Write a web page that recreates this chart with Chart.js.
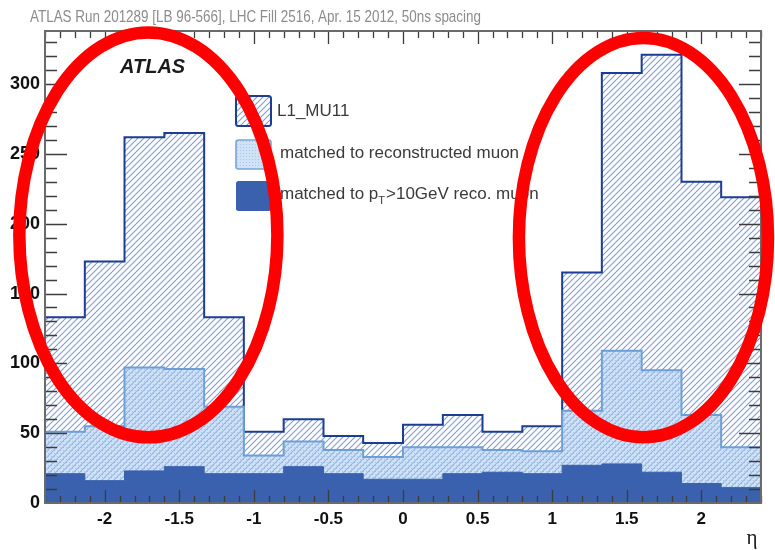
<!DOCTYPE html>
<html>
<head>
<meta charset="utf-8">
<script src="https://cdn.jsdelivr.net/npm/chart.js@4.4.1/dist/chart.umd.min.js"></script>
<style>
  html, body { margin: 0; padding: 0; background: #ffffff; }
  canvas { display: block; }
</style>
</head>
<body>
<canvas id="c" width="775" height="550"></canvas>
<script>
// Pseudorapidity bin edges (18 bins from -2.4 to 2.4)
const etaEdges = [-2.4, -2.133, -1.867, -1.6, -1.333, -1.067, -0.8, -0.533, -0.267, 0,
                  0.267, 0.533, 0.8, 1.067, 1.333, 1.6, 1.867, 2.133, 2.4];
// Entries per bin
const l1Mu11      = [133, 173, 262, 265, 133, 51, 60, 48, 43, 56, 63, 51, 55, 165, 308, 321, 230, 219];
const matchedReco = [51, 55, 97, 96, 69, 34, 44, 38, 33, 40, 40, 38, 37, 66, 109, 95, 63, 40];
const matchedPt10 = [21, 16, 23, 26, 21, 21, 26, 21, 17, 17, 21, 22, 21, 27, 28, 22, 14, 11];
// Axis labels
const xTickLabels = ['-2', '-1.5', '-1', '-0.5', '0', '0.5', '1', '1.5', '2'];
const yTickLabels = ['0', '50', '100', '150', '200', '250', '300'];
const seriesNames = ['L1_MU11', 'matched to reconstructed muon', 'matched to p_T>10GeV reco. muon'];
const runTitle = 'ATLAS Run 201289 [LB 96-566], LHC Fill 2516, Apr. 15 2012, 50ns spacing';
// Highlighted regions: centre (eta, entries) and half-axes (eta, entries)
const highlightCentersEta = [-1.707, 1.612];
const highlightCentersY   = [192, 190];
const highlightHalfEta    = [0.865, 0.835];
const highlightHalfY      = [145, 143];

const canvas = document.getElementById('c');
const ctx = canvas.getContext('2d');

// Diagonal hatching used for the L1_MU11 histogram
function makeHatch() {
  const s = 6;
  const c = document.createElement('canvas');
  c.width = s; c.height = s;
  const g = c.getContext('2d');
  g.fillStyle = '#ffffff';
  g.fillRect(0, 0, s, s);
  g.strokeStyle = '#7f9dd4';
  g.lineWidth = 1.1;
  g.beginPath();
  g.moveTo(-1, s + 1); g.lineTo(s + 1, -1);
  g.moveTo(-1, 1); g.lineTo(1, -1);
  g.moveTo(s - 1, s + 1); g.lineTo(s + 1, s - 1);
  g.stroke();
  return ctx.createPattern(c, 'repeat');
}
// Light dotted fill, translucent so the hatching beneath shows through
function makeDots() {
  const s = 3;
  const c = document.createElement('canvas');
  c.width = s; c.height = s;
  const g = c.getContext('2d');
  g.fillStyle = 'rgba(170,202,238,0.55)';
  g.fillRect(0, 0, s, s);
  g.fillStyle = 'rgba(120,160,212,0.45)';
  g.fillRect(0, 0, 1, 1);
  return ctx.createPattern(c, 'repeat');
}
const hatch = makeHatch();
const dots = makeDots();
const darkBlue = '#3a61ad';

function steps(vals) {
  const pts = vals.map((v, i) => ({ x: etaEdges[i], y: v }));
  pts.push({ x: etaEdges[vals.length], y: vals[vals.length - 1] });
  return pts;
}

const tickFont = { family: '"Liberation Sans", Arial, sans-serif', weight: 'bold' };

// Frame with inward ticks on all four sides
const framePlugin = {
  id: 'frame',
  afterDatasetsDraw(chart) {
    const { ctx, chartArea: a, scales: { x, y } } = chart;
    ctx.save();
    ctx.strokeStyle = '#3c3c3c';
    ctx.lineWidth = 1.3;
    ctx.beginPath();
    for (let k = -24; k <= 24; k++) {
      const v = k / 10;
      const px = Math.round(x.getPixelForValue(v)) + 0.5;
      const major = k % 5 === 0;
      const l = major ? 13 : 7;
      ctx.moveTo(px, a.bottom); ctx.lineTo(px, a.bottom - l);
      ctx.moveTo(px, a.top); ctx.lineTo(px, a.top + l);
    }
    for (let v = 10; v <= 330; v += 10) {
      const py = Math.round(y.getPixelForValue(v)) + 0.5;
      const major = v % 50 === 0;
      const l = major ? 22 : 12;
      ctx.moveTo(a.left, py); ctx.lineTo(a.left + l, py);
      ctx.moveTo(a.right, py); ctx.lineTo(a.right - l, py);
    }
    ctx.stroke();
    ctx.strokeStyle = '#6a6a6a';
    ctx.lineWidth = 2;
    ctx.strokeRect(a.left, a.top, a.right - a.left, a.bottom - a.top);
    ctx.restore();
  }
};

// Texts, legend and highlight ellipses
const decorPlugin = {
  id: 'decor',
  afterDraw(chart) {
    const { ctx, scales: { x, y } } = chart;
    ctx.save();
    // run title
    ctx.fillStyle = '#8c8c8c';
    ctx.font = '17px "Liberation Sans", Arial, sans-serif';
    ctx.textBaseline = 'alphabetic';
    ctx.textAlign = 'left';
    ctx.fillText(runTitle, 30, 22, 451);

    // ATLAS label
    ctx.fillStyle = '#1a1a1a';
    ctx.font = 'italic bold 20px "Liberation Sans", Arial, sans-serif';
    ctx.fillText('ATLAS', 120, 73);

    // legend
    const bx = 236, bw = 35;
    function box(top, h, fill, stroke, lw) {
      ctx.beginPath();
      ctx.roundRect(bx, top, bw, h, 2.5);
      ctx.fillStyle = fill;
      ctx.fill();
      if (stroke) { ctx.strokeStyle = stroke; ctx.lineWidth = lw; ctx.stroke(); }
    }
    box(96, 30, hatch, '#1d3d95', 2);
    ctx.beginPath(); ctx.roundRect(bx, 140, bw, 29, 2.5); ctx.fillStyle = '#ffffff'; ctx.fill();
    box(140, 29, dots, '#78a6d8', 1.6);
    box(181, 30, darkBlue, null, 0);

    const legendFont = '17px "Liberation Sans", Arial, sans-serif';
    ctx.fillStyle = '#3a3a3a';
    ctx.font = legendFont;
    ctx.textBaseline = 'middle';
    ctx.fillText(seriesNames[0], 277, 111);
    ctx.fillText(seriesNames[1], 280, 153);
    const parts = seriesNames[2].split('_');
    let tx = 280;
    const pre = parts[0];                 // "matched to p"
    ctx.fillText(pre, tx, 194);
    tx += ctx.measureText(pre).width;
    ctx.font = '11px "Liberation Sans", Arial, sans-serif';
    ctx.fillText(parts[1].charAt(0), tx, 201);
    tx += ctx.measureText(parts[1].charAt(0)).width + 1;
    ctx.font = legendFont;
    ctx.fillText(parts[1].slice(1), tx, 194);

    // axis title
    ctx.fillStyle = '#1a1a1a';
    ctx.font = '21px "Liberation Serif", "DejaVu Serif", serif';
    ctx.textAlign = 'center';
    ctx.textBaseline = 'alphabetic';
    ctx.fillText('\u03B7', 752, 544);

    // highlight ellipses
    ctx.strokeStyle = '#ff0000';
    ctx.lineWidth = 12.5;
    for (let i = 0; i < highlightCentersEta.length; i++) {
      const cx = x.getPixelForValue(highlightCentersEta[i]);
      const cy = y.getPixelForValue(highlightCentersY[i]);
      const rx = x.getPixelForValue(highlightCentersEta[i] + highlightHalfEta[i]) - cx;
      const ry = cy - y.getPixelForValue(highlightCentersY[i] + highlightHalfY[i]);
      ctx.beginPath();
      ctx.ellipse(cx, cy, rx, ry, 0, 0, Math.PI * 2);
      ctx.stroke();
    }
    ctx.restore();
  }
};

new Chart(ctx, {
  type: 'line',
  data: {
    datasets: [
      {
        label: seriesNames[0], data: steps(l1Mu11), stepped: true,
        borderColor: '#1d3d95', borderWidth: 2, backgroundColor: hatch,
        fill: 'origin', pointRadius: 0, order: 3
      },
      {
        label: seriesNames[1], data: steps(matchedReco), stepped: true,
        borderColor: '#6d9fd6', borderWidth: 2, backgroundColor: dots,
        fill: 'origin', pointRadius: 0, order: 2
      },
      {
        label: seriesNames[2], data: steps(matchedPt10), stepped: true,
        borderColor: darkBlue, borderWidth: 1, backgroundColor: darkBlue,
        fill: 'origin', pointRadius: 0, order: 1
      }
    ]
  },
  options: {
    responsive: false,
    animation: false,
    devicePixelRatio: 1,
    layout: { padding: { top: 31, right: 14, left: 0, bottom: 0 } },
    plugins: { legend: { display: false }, title: { display: false }, tooltip: { enabled: false } },
    elements: { line: { tension: 0, borderJoinStyle: 'miter' } },
    scales: {
      x: {
        type: 'linear', min: -2.4, max: 2.4,
        grid: { display: false, drawTicks: false },
        border: { display: false },
        ticks: {
          stepSize: 0.5, includeBounds: false, autoSkip: false, maxRotation: 0,
          padding: 6, color: '#111111', font: { ...tickFont, size: 17 },
          callback: (v, i) => xTickLabels[i]
        },
        afterFit: (s) => { s.height = 47; }
      },
      y: {
        type: 'linear', min: 0, max: 338,
        grid: { display: false, drawTicks: false },
        border: { display: false },
        ticks: {
          stepSize: 50, includeBounds: false, autoSkip: false,
          padding: 5, color: '#111111', font: { ...tickFont, size: 18 },
          callback: (v, i) => yTickLabels[i]
        },
        afterFit: (s) => { s.width = 45; }
      }
    }
  },
  plugins: [framePlugin, decorPlugin]
});
</script>
</body>
</html>
